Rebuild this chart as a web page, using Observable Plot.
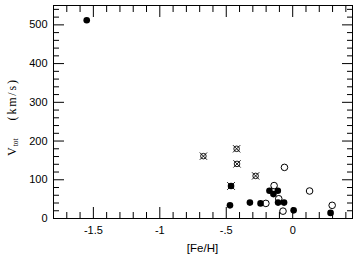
<!DOCTYPE html>
<html><head><meta charset="utf-8">
<script src="https://cdn.jsdelivr.net/npm/d3@7"></script>
<script src="https://cdn.jsdelivr.net/npm/@observablehq/plot@0.6"></script>
<style>body{margin:0;background:#fff} svg{display:block}</style>
</head><body><div id="chart"></div>
<script>
// filled circles
const filledFeH = [-1.55, -0.472, -0.322, -0.242, -0.175, -0.145, -0.112, -0.11, -0.065, 0.007, 0.285];
const filledV   = [512,   34,     41,     39,     71.5,   63,     71.5,   41,    41,     21,    14.5];
// open circles
const openFeH = [-0.062, -0.14, 0.127, -0.202, -0.105, -0.073, 0.297];
const openV   = [132,    85,    71,    39,     51,     19,     34];
// crossed open symbols
const crossFeH = [-0.672, -0.422, -0.419, -0.279];
const crossV   = [161,    180,    141,    110];
// crossed filled symbol
const crossFilledFeH = [-0.464];
const crossFilledV   = [84];

const xMajor = [-1.5, -1, -0.5, 0];
const xMajorLabels = ["-1.5", "-1", "-.5", "0"];
const xMinor = [-1.7, -1.6, -1.4, -1.3, -1.2, -1.1, -0.9, -0.8, -0.7, -0.6, -0.4, -0.3, -0.2, -0.1, 0.1, 0.2, 0.3, 0.4];
const yMajor = [0, 100, 200, 300, 400, 500];
const yMajorLabels = ["0", "100", "200", "300", "400", "500"];
const yMinor = [20, 40, 60, 80, 120, 140, 160, 180, 220, 240, 260, 280, 320, 340, 360, 380, 420, 440, 460, 480, 520, 540];

const toRows = (xs, ys) => xs.map((x, i) => ({x, y: ys[i]}));
const filled = toRows(filledFeH, filledV);
const open = toRows(openFeH, openV);
const cross = toRows(crossFeH, crossV);
const crossFilled = toRows(crossFilledFeH, crossFilledV);

const xLab = new Map(xMajor.map((d, i) => [d, xMajorLabels[i]]));
const yLab = new Map(yMajor.map((d, i) => [d, yMajorLabels[i]]));

const tickStyle = {stroke: "black", strokeWidth: 1, text: null, label: null};

const plot = Plot.plot({
  width: 361,
  height: 257,
  marginLeft: 53,
  marginRight: 9,
  marginTop: 5,
  marginBottom: 39,
  style: {fontFamily: "'Liberation Sans', Arial, sans-serif", fontSize: "11px", color: "black", background: "white"},
  x: {domain: [-1.8, 0.45]},
  y: {domain: [0, 550]},
  marks: [
    Plot.axisX(xMajor, {anchor: "bottom", tickSize: -11, ...tickStyle}),
    Plot.axisX(xMinor, {anchor: "bottom", tickSize: -6, ...tickStyle}),
    Plot.axisX(xMajor, {anchor: "top", tickSize: -11, ...tickStyle}),
    Plot.axisX(xMinor, {anchor: "top", tickSize: -6, ...tickStyle}),
    Plot.axisY(yMajor, {anchor: "left", tickSize: -11, ...tickStyle}),
    Plot.axisY(yMinor, {anchor: "left", tickSize: -6, ...tickStyle}),
    Plot.axisY(yMajor, {anchor: "right", tickSize: -11, ...tickStyle}),
    Plot.axisY(yMinor, {anchor: "right", tickSize: -6, ...tickStyle}),
    Plot.axisX(xMajor, {anchor: "bottom", tickSize: 0, tickPadding: 8, tickFormat: d => xLab.get(d), label: null, fill: "black"}),
    Plot.axisY(yMajor, {anchor: "left", tickSize: 0, tickPadding: 6, tickFormat: d => yLab.get(d), label: null, fill: "black"}),
    Plot.frame({stroke: "black", strokeWidth: 1}),
    Plot.dot(filled, {x: "x", y: "y", r: 3.3, fill: "black", stroke: null}),
    Plot.dot(open, {x: "x", y: "y", r: 3.3, fill: "none", stroke: "black", strokeWidth: 1}),
    Plot.dot(cross, {x: "x", y: "y", r: 2.8, fill: "none", stroke: "black", strokeWidth: 0.9}),
    Plot.dot(cross, {x: "x", y: "y", r: 3.4, symbol: "times", stroke: "black", strokeWidth: 0.9}),
    Plot.dot(crossFilled, {x: "x", y: "y", r: 3.3, fill: "black", stroke: null}),
    Plot.dot(crossFilled, {x: "x", y: "y", r: 3.6, symbol: "times", stroke: "black", strokeWidth: 0.9})
  ]
});

const svg = d3.select(plot);
// x label
svg.append("text")
  .attr("x", 202.5).attr("y", 252)
  .attr("text-anchor", "middle")
  .attr("font-family", "'Liberation Sans', Arial, sans-serif")
  .attr("font-size", 11.5)
  .attr("fill", "black")
  .text("[Fe/H]");
// y label with subscript
const yl = svg.append("text")
  .attr("transform", "translate(16,156) rotate(-90)")
  .attr("text-anchor", "start")
  .attr("font-family", "'Liberation Serif', 'Times New Roman', serif")
  .attr("font-size", 12)
  .attr("fill", "black");
yl.append("tspan").text("V");
yl.append("tspan").attr("font-size", 7.5).attr("dy", 2).attr("dx", 1).text("tot");
yl.append("tspan").attr("dy", -2).attr("dx", 18).attr("letter-spacing", 1.8).text("(km/s)");

document.getElementById("chart").appendChild(plot);
</script>
</body></html>
